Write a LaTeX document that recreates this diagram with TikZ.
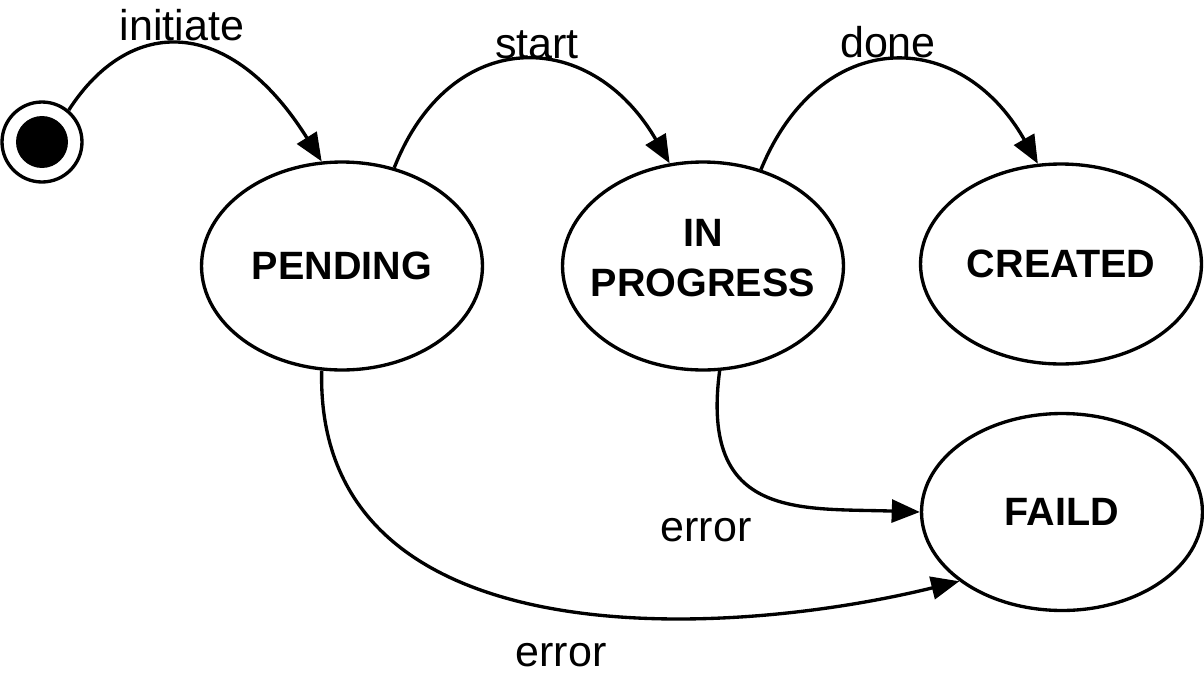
\documentclass[tikz,border=0pt]{standalone}
\usepackage{fontspec}
\setmainfont{Liberation Sans}
\usetikzlibrary{arrows.meta, shapes.geometric}

\begin{document}
\begin{tikzpicture} [x=0.02cm, y=-0.02cm, line width=1.9pt,
  st/.style = {draw, ellipse, inner sep=0pt, minimum width=5.62cm, font=\fontsize{22.5}{29}\selectfont\bfseries, align=center},
  lbl/.style = {font=\fontsize{24.5}{29}\selectfont},
  tr/.style = {-{Triangle[length=16pt,width=13pt]}}]
\useasboundingbox (0,0) rectangle (1204,680);
\node[draw, circle, minimum size=1.6cm, inner sep=0pt](start) at (42,142){};
\node[fill, circle, minimum size=1.04cm, inner sep=0pt](startdot) at (42,142){};
\node[st, minimum height=4.16cm](pend) at (342,266){PENDING};
\node[st, minimum height=4.16cm, label={[font=\fontsize{22.5}{29}\selectfont\bfseries, align=center, yshift=4.5pt]center:IN\\PROGRESS}](prog) at (703,266){};
\node[st, minimum height=4.0cm](crea) at (1061,264){CREATED};
\node[st, minimum height=3.94cm](fail) at (1062,512){FAILD};
\node[lbl](linit) at (182,25){initiate};
\node[lbl](lstart) at (537,45){start};
\node[lbl](ldone) at (888,42){done};
\node[lbl](lerr1) at (706,530){error};
\node[lbl](lerr2) at (561,655){error};
\draw[tr] (start.50) .. controls (130,15) and (230,15) .. (pend.101);
\draw[tr] (pend.62) .. controls (450,26) and (590,26) .. (prog.108);
\draw[tr] (prog.59) .. controls (820,26) and (960,26) .. (crea.103);
\draw[tr] (prog.-81) .. controls (700,520) and (800,508) .. (fail.180);
\draw[tr] (pend.-101) .. controls (315,660) and (720,640) .. (fail.214);
\end{tikzpicture}
\end{document}
